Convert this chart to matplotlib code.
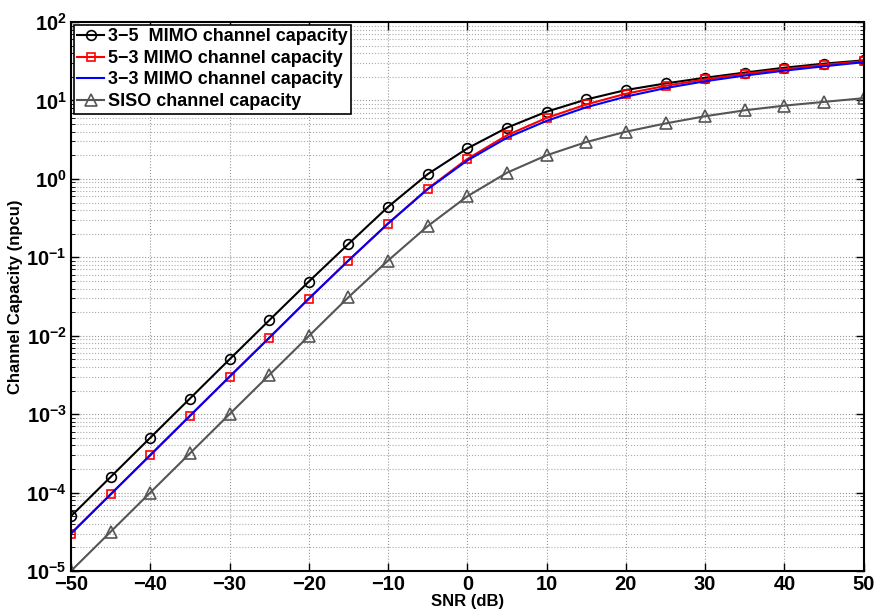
import matplotlib
matplotlib.use("Agg")
import matplotlib.pyplot as plt
from matplotlib.ticker import LogLocator, FixedLocator, NullFormatter

plt.rcParams['font.family'] = ['Liberation Sans', 'DejaVu Sans']
plt.rcParams['font.weight'] = 'bold'
plt.rcParams['mathtext.fontset'] = 'custom'
plt.rcParams['mathtext.rm'] = 'Liberation Sans:bold'
plt.rcParams['mathtext.bf'] = 'Liberation Sans:bold'
plt.rcParams['mathtext.default'] = 'rm'

# SNR in dB
snr_db = [-50, -45, -40, -35, -30, -25, -20, -15, -10, -5, 0,
          5, 10, 15, 20, 25, 30, 35, 40, 45, 50]

# capacities (npcu)
mimo_35 = [5e-5, 1.58e-4, 5e-4, 1.58e-3, 5e-3, 1.57e-2, 0.049, 0.148, 0.44, 1.15, 2.45,
           4.5, 7.2, 10.3, 13.6, 16.5, 19.5, 22.7, 26.2, 29.5, 32.5]
mimo_53 = [3e-5, 9.5e-5, 3e-4, 9.5e-4, 3e-3, 9.4e-3, 0.0297, 0.091, 0.27, 0.75, 1.8,
           3.6, 6.0, 8.9, 12.2, 15.4, 18.6, 21.9, 25.0, 28.5, 31.8]
mimo_33 = [3e-5, 9.5e-5, 3e-4, 9.5e-4, 3e-3, 9.4e-3, 0.0297, 0.091, 0.27, 0.74, 1.72,
           3.35, 5.5, 8.2, 11.2, 14.4, 17.6, 20.8, 24.0, 27.3, 30.8]
siso = [1e-5, 3.16e-5, 1e-4, 3.16e-4, 1e-3, 3.15e-3, 0.0099, 0.031, 0.091, 0.25, 0.6,
        1.2, 2.0, 2.95, 4.0, 5.1, 6.3, 7.5, 8.6, 9.6, 10.7]

fig = plt.figure(figsize=(8.76, 6.13), dpi=100)
ax = fig.add_axes([0.081, 0.0685, 0.905, 0.8955])

ax.semilogy(snr_db, mimo_35, color='black', marker='o', mfc='none', ms=7, mew=1.2,
            lw=1.5, label='3\u22125  MIMO channel capacity')
ax.semilogy(snr_db, mimo_53, color='red', marker='s', mfc='none', ms=6, mew=1.2,
            lw=1.5, label='5\u22123 MIMO channel capacity')
ax.semilogy(snr_db, mimo_33, color='blue', lw=1.5, label='3\u22123 MIMO channel capacity')
ax.semilogy(snr_db, siso, color='#555555', marker='^', mfc='none', ms=8, mew=1.2,
            lw=1.5, label='SISO channel capacity')

ax.set_xlim(-50, 50)
ax.set_ylim(1e-5, 1e2)
ax.xaxis.set_major_locator(FixedLocator(list(range(-50, 51, 10))))
ax.yaxis.set_major_locator(LogLocator(base=10, numticks=20))
ax.yaxis.set_minor_locator(LogLocator(base=10, subs=range(2, 10), numticks=20))
ax.yaxis.set_minor_formatter(NullFormatter())

ax.grid(True, which='major', linestyle=':', color='#999999', lw=0.8)
ax.grid(True, which='minor', axis='y', linestyle=':', color='#aaaaaa', lw=0.8)
ax.tick_params(which='both', direction='in', top=True, right=True, labelsize=14.5)
ax.tick_params(which='major', length=6, width=1, pad=3)
ax.tick_params(which='minor', length=3)
for s in ax.spines.values():
    s.set_linewidth(1.5)

ax.set_xlabel('SNR (dB)', fontsize=12, fontweight='bold', labelpad=0)
ax.set_ylabel('Channel Capacity (npcu)', fontsize=12, fontweight='bold', labelpad=2)

leg = ax.legend(loc='upper left', fontsize=13, frameon=True, fancybox=False,
                edgecolor='black', framealpha=1, borderpad=0.2, labelspacing=0.25,
                handlelength=1.5, handletextpad=0.2, borderaxespad=0.15)
leg.get_frame().set_linewidth(1.2)
for t in leg.get_texts():
    t.set_fontweight('bold')

fig.savefig('out.png', dpi=100)
